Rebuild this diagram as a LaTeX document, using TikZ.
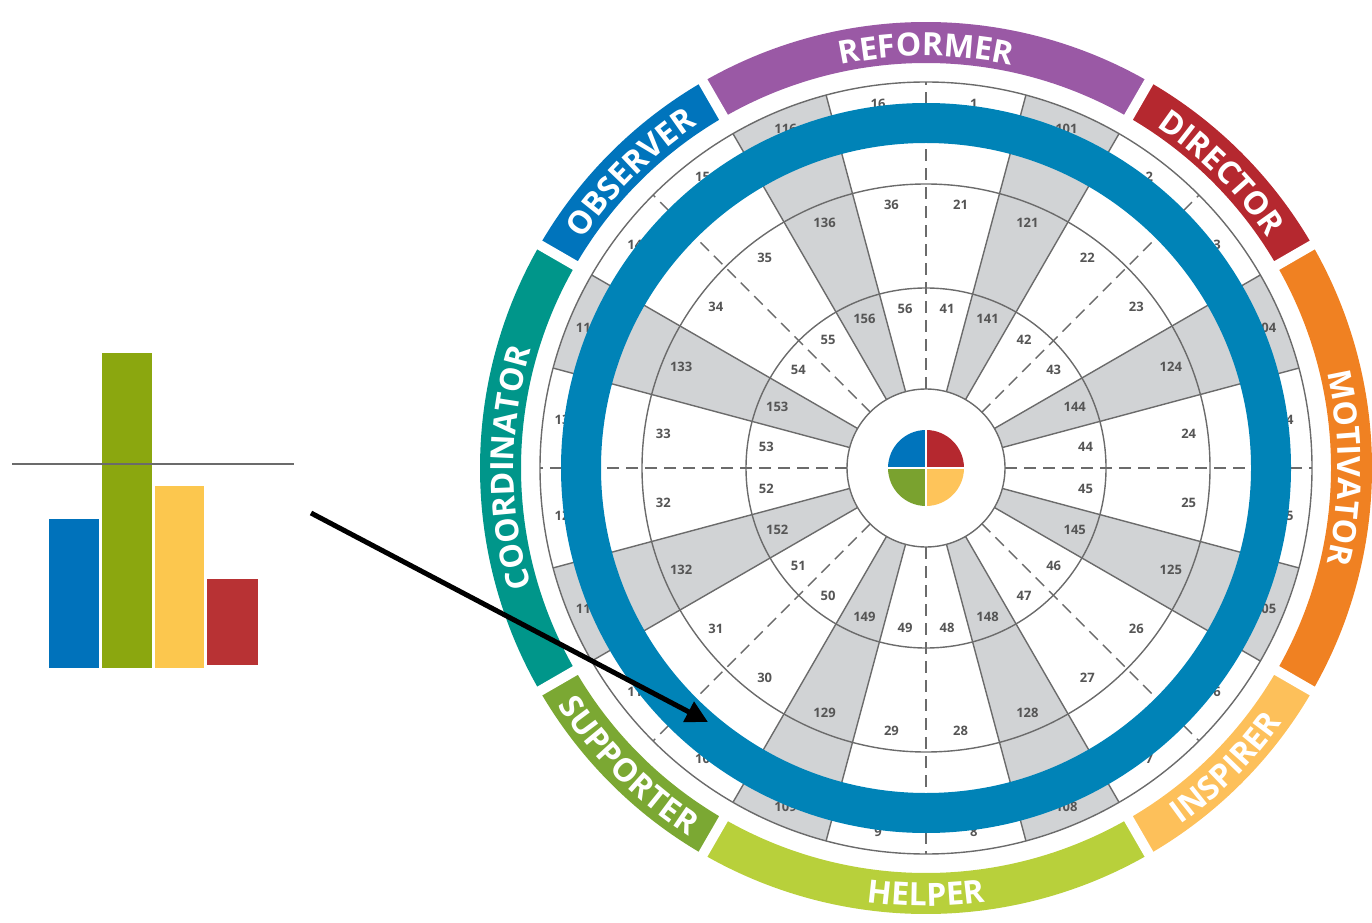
\documentclass[tikz,border=0pt]{standalone}
\usepackage{fontspec}
\setmainfont{Open Sans}
\usetikzlibrary{arrows.meta,decorations.text}
\definecolor{reformer}{HTML}{9A59A5}
\definecolor{director}{HTML}{B5282F}
\definecolor{motivator}{HTML}{F08122}
\definecolor{inspirer}{HTML}{FDC05A}
\definecolor{helper}{HTML}{B8D03B}
\definecolor{supporter}{HTML}{7BA833}
\definecolor{coordinator}{HTML}{00968A}
\definecolor{observer}{HTML}{0074BC}
\definecolor{ringblue}{HTML}{0083B7}
\definecolor{wedgegray}{HTML}{D1D3D5}
\definecolor{linegray}{HTML}{6B6B6B}
\definecolor{numgray}{HTML}{555555}
\definecolor{barblue}{HTML}{0072BB}
\definecolor{bargreen}{HTML}{8BA70F}
\definecolor{baryellow}{HTML}{FCC74E}
\definecolor{barred}{HTML}{B83234}
\definecolor{piegreen}{HTML}{7AA22F}
\definecolor{pieyellow}{HTML}{FEC45A}
\newcommand{\bandfont}{\fontsize{32}{32}\selectfont\bfseries}
\tikzstyle{linea}=[draw=linegray,line width=1.4pt]
\tikzstyle{tratto}=[draw=linegray,line width=1.4pt,dash pattern=on 12pt off 7pt]
\tikzstyle{num}=[font=\fontsize{13}{13}\selectfont\bfseries,text=numgray,inner sep=0pt]
\tikzset{scritta/.style={decorate,decoration={text along path,text={|\bandfont|#1},text align=center,text color=white}}}

\begin{document}
\begin{tikzpicture}[x=1pt,y=1pt]
\useasboundingbox (0,0) rectangle (1372,922);
% barre
\fill[barblue] (49,254) rectangle (99,403);
\fill[bargreen] (101.5,254) rectangle (151.5,569);
\fill[baryellow] (155,254) rectangle (204,436);
\fill[barred] (207,257) rectangle (258,343);
\draw[linegray,line width=2pt] (12,458) -- (294,458);

\begin{scope}[shift={(926,454)}]
% spicchi grigi
\foreach \a in {67.5,22.5,-22.5,-67.5,-112.5,-157.5,-202.5,-247.5}{
  \pgfmathsetmacro\lo{\a-7.5}
  \pgfmathsetmacro\hi{\a+7.5}
  \fill[wedgegray] (\lo:79) -- (\lo:386) arc[start angle=\lo,end angle=\hi,radius=386] -- (\hi:79) arc[start angle=\hi,end angle=\lo,radius=79] -- cycle;
  \draw[linea] (\lo:79) -- (\lo:386) (\hi:79) -- (\hi:386);
}
\foreach \r in {79,180,284,386}
  \draw[linea] (0,0) circle[radius=\r];
\foreach \a in {0,45,...,315}
  \draw[tratto] (\a:79) -- (\a:386);
% numeri
\foreach \n/\a in {1/82.5,2/52.5,3/37.5,4/7.5,5/-7.5,6/-37.5,7/-52.5,8/-82.5,9/-97.5,10/-127.5,11/-142.5,12/-172.5,13/172.5,14/142.5,15/127.5,16/97.5,101/67.5,104/22.5,105/-22.5,108/-67.5,109/-112.5,112/-157.5,113/-202.5,116/-247.5}
  \foreach \r/\o in {161/40,265/20,367/0}{
    \pgfmathtruncatemacro\lab{\n+\o}
    \node[num] (n\lab) at (\a:\r) {\lab};
  }
% torta
\fill[director] (0,0) -- (0:38) arc[start angle=0,end angle=90,radius=38] -- cycle;
\fill[observer] (0,0) -- (90:38) arc[start angle=90,end angle=180,radius=38] -- cycle;
\fill[piegreen] (0,0) -- (180:38) arc[start angle=180,end angle=270,radius=38] -- cycle;
\fill[pieyellow] (0,0) -- (270:38) arc[start angle=270,end angle=360,radius=38] -- cycle;
\draw[white,line width=2pt] (-39,0) -- (39,0) (0,-39) -- (0,39);
% anello blu
\draw[ringblue,line width=40pt] (0,0) circle[radius=345];
% fasce colorate
\foreach \c/\s/\e in {reformer/60/120,director/30/60,motivator/-30/30,inspirer/-60/-30,helper/-120/-60,supporter/-150/-120,coordinator/150/210,observer/120/150}
  \fill[\c] (\s:405) arc[start angle=\s,end angle=\e,radius=405] -- (\e:446) arc[start angle=\e,end angle=\s,radius=446] -- cycle;
\foreach \a in {30,60,120,150,210,240,300,330}
  \draw[white,line width=10pt] (\a:398) -- (\a:452);
\path[scritta=REFORMER] (120:412) arc[start angle=120,end angle=60,radius=412];
\path[scritta=DIRECTOR] (60:412) arc[start angle=60,end angle=30,radius=412];
\path[scritta=MOTIVATOR] (30:412) arc[start angle=30,end angle=-30,radius=412];
\path[scritta=COORDINATOR] (210:412) arc[start angle=210,end angle=150,radius=412];
\path[scritta=OBSERVER] (150:412) arc[start angle=150,end angle=120,radius=412];
\path[scritta=INSPIRER] (-60:438) arc[start angle=-60,end angle=-30,radius=438];
\path[scritta=HELPER] (-120:438) arc[start angle=-120,end angle=-60,radius=438];
\path[scritta=SUPPORTER] (-150:438) arc[start angle=-150,end angle=-120,radius=438];
\end{scope}

% freccia
\coordinate (da) at (311,409);
\coordinate (a) at (708,200);
\draw[-{Triangle[length=22pt,width=22pt]},line width=5pt] (da) -- (a);
\end{tikzpicture}
\end{document}
